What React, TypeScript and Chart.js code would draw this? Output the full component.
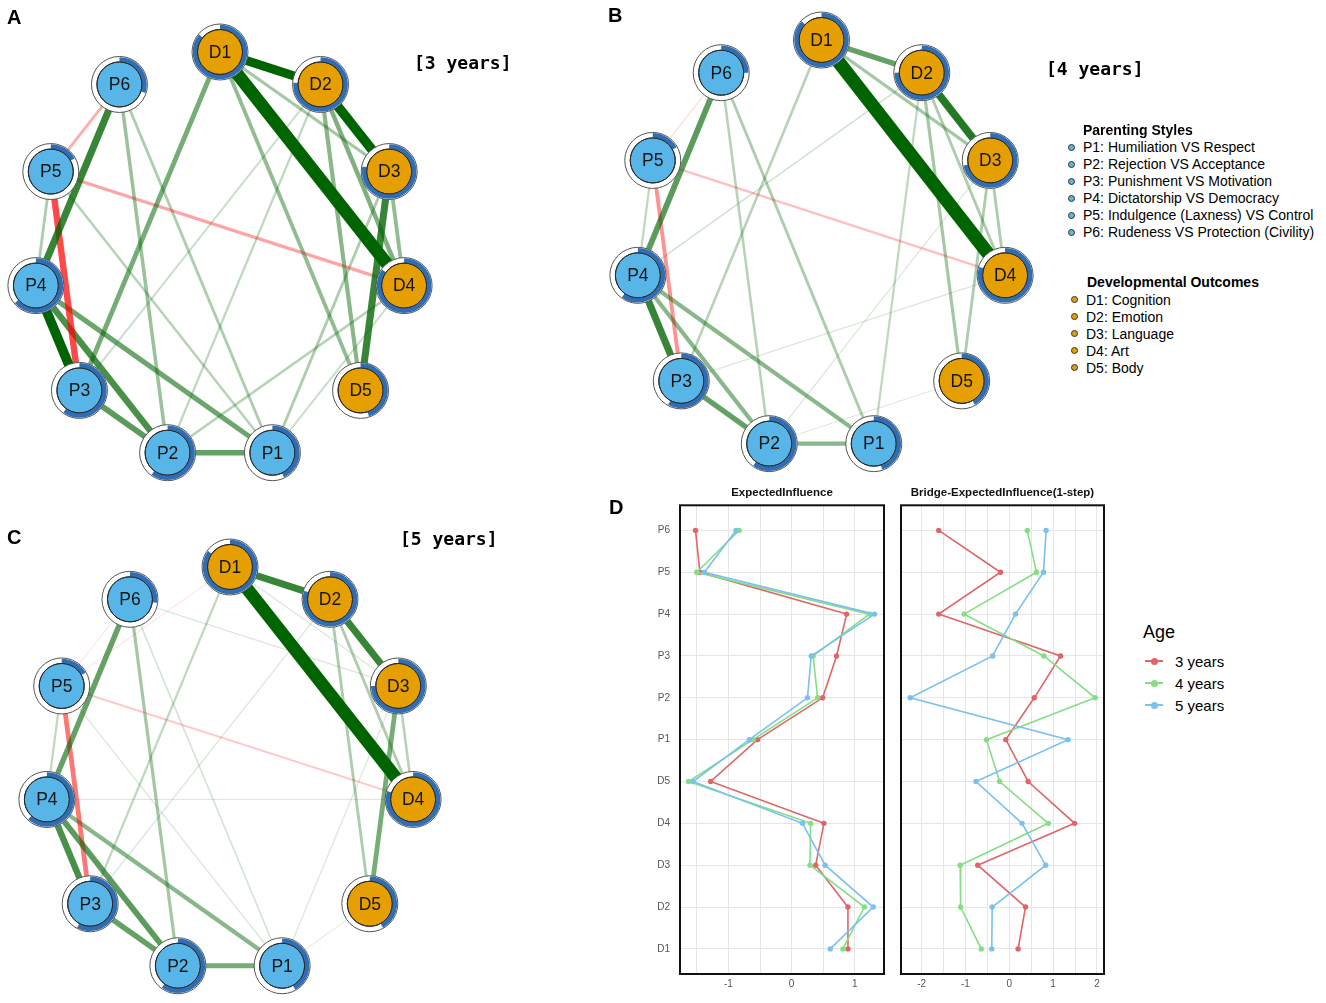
import React, { useEffect, useRef } from "react";
import { Chart, registerables } from "chart.js";
Chart.register(...registerables);

const FONT = '"Liberation Sans", Arial, Helvetica, sans-serif';
const MONO = '"DejaVu Sans Mono", "Liberation Mono", monospace';

// ---------- Network data ----------
const nodeNames = ["D1", "D2", "D3", "D4", "D5", "P1", "P2", "P3", "P4", "P5", "P6"];
// node predictability (pie fraction), same order as nodeNames
const pie3 = [0.86, 0.76, 0.78, 0.85, 0.45, 0.43, 0.6, 0.6, 0.64, 0.17, 0.3];
const pie4 = [0.87, 0.75, 0.72, 0.8, 0.42, 0.45, 0.6, 0.58, 0.6, 0.17, 0.25];
const pie5 = [0.85, 0.8, 0.75, 0.8, 0.42, 0.42, 0.6, 0.58, 0.62, 0.17, 0.27];

type Edge = [string, string, number];
const edges3: Edge[] = [
  ["D1", "D4", 0.4], ["D2", "D3", 0.3], ["D1", "D2", 0.28], ["D3", "D5", 0.22],
  ["P4", "P3", 0.3], ["P6", "P4", 0.22], ["P4", "P2", 0.2], ["P3", "P2", 0.18],
  ["P4", "P1", 0.16], ["P2", "P1", 0.17], ["D1", "P3", 0.15], ["D2", "D4", 0.14],
  ["D2", "D5", 0.13], ["D1", "D5", 0.12], ["D3", "D4", 0.12], ["D1", "D3", 0.1],
  ["P6", "P2", 0.11], ["P6", "P1", 0.09], ["P5", "P4", 0.09], ["P5", "P1", 0.08],
  ["D3", "P1", 0.09], ["D4", "P2", 0.08], ["D4", "P1", 0.06], ["D2", "P3", 0.06],
  ["D2", "P2", 0.07], ["P5", "P3", -0.2], ["P5", "D4", -0.1], ["P5", "P6", -0.09],
];
const edges4: Edge[] = [
  ["D1", "D4", 0.42], ["D2", "D3", 0.24], ["D1", "D2", 0.17], ["P4", "P3", 0.22],
  ["P6", "P4", 0.18], ["P3", "P2", 0.17], ["P4", "P2", 0.13], ["P4", "P1", 0.13],
  ["P2", "P1", 0.13], ["D1", "D3", 0.1], ["D2", "D4", 0.09], ["D2", "D5", 0.1],
  ["D3", "D4", 0.09], ["D3", "D5", 0.09], ["D1", "P3", 0.08], ["D2", "P1", 0.07],
  ["P6", "P2", 0.08], ["P6", "P1", 0.09], ["P5", "P4", 0.07], ["D2", "P4", 0.05],
  ["D3", "P2", 0.04], ["D4", "P3", 0.04], ["D5", "P2", 0.03], ["P5", "P3", -0.12],
  ["P5", "D4", -0.07], ["P5", "P6", -0.04],
];
const edges5: Edge[] = [
  ["D1", "D4", 0.4], ["D1", "D2", 0.22], ["D2", "D3", 0.22], ["P4", "P3", 0.2],
  ["P6", "P4", 0.17], ["P4", "P2", 0.18], ["P3", "P2", 0.17], ["P2", "P1", 0.15],
  ["P4", "P1", 0.13], ["D3", "D5", 0.15], ["D2", "D5", 0.09], ["D2", "D4", 0.09],
  ["D3", "D4", 0.08], ["D1", "P3", 0.07], ["P6", "P2", 0.1], ["P5", "P4", 0.07],
  ["P6", "P1", 0.05], ["P5", "P1", 0.04], ["D1", "D3", 0.04], ["D2", "P3", 0.04],
  ["D3", "P6", 0.04], ["P4", "D4", 0.03], ["D3", "P1", 0.04], ["D5", "P1", 0.03],
  ["P5", "P3", -0.15], ["P5", "D4", -0.06], ["P6", "P5", -0.03], ["D1", "P5", -0.03],
];

const parentingLabels = [
  "P1: Humiliation VS Respect",
  "P2: Rejection VS Acceptance",
  "P3: Punishment VS Motivation",
  "P4: Dictatorship VS Democracy",
  "P5: Indulgence (Laxness) VS Control",
  "P6: Rudeness VS Protection (Civility)",
];
const outcomeLabels = ["D1: Cognition", "D2: Emotion", "D3: Language", "D4: Art", "D5: Body"];

// ---------- Centrality data ----------
const nodeCategories = ["P6", "P5", "P4", "P3", "P2", "P1", "D5", "D4", "D3", "D2", "D1"];
const ei3 = [-1.52, -1.45, 0.87, 0.71, 0.49, -0.54, -1.28, 0.51, 0.38, 0.89, 0.89];
const ei4 = [-0.83, -1.5, 1.23, 0.34, 0.41, -0.61, -1.63, 0.3, 0.29, 1.15, 0.81];
const ei5 = [-0.88, -1.38, 1.31, 0.31, 0.25, -0.67, -1.56, 0.17, 0.53, 1.29, 0.61];
const bei3 = [-1.61, -0.2, -1.61, 1.17, 0.57, -0.08, 0.43, 1.49, -0.72, 0.37, 0.2];
const bei4 = [0.41, 0.62, -1.03, 0.79, 1.96, -0.52, -0.22, 0.89, -1.12, -1.11, -0.64];
const bei5 = [0.84, 0.78, 0.14, -0.38, -2.26, 1.34, -0.76, 0.29, 0.83, -0.39, -0.4];
const eiGridTicks = [-1.5, -1, -0.5, 0, 0.5, 1];
const beiGridTicks = [-2, -1.5, -1, -0.5, 0, 0.5, 1, 1.5, 2];
const ageLabels = ["3 years", "4 years", "5 years"];
const ageColors = ["rgb(224,100,104)", "rgb(132,222,132)", "rgb(122,192,240)"];

// ---------- Helpers ----------
function Txt(props: { x: number; y: number; size: number; bold?: boolean; family?: string; color?: string; children: any }) {
  const { x, y, size, bold, family, color, children } = props;
  return (
    <div
      style={{
        position: "absolute",
        left: x,
        top: y - 0.8465 * size,
        fontSize: size,
        lineHeight: `${size}px`,
        fontFamily: family || FONT,
        fontWeight: bold ? "bold" : "normal",
        color: color || "#000",
        whiteSpace: "nowrap",
      }}
    >
      {children}
    </div>
  );
}

function Dot(props: { x: number; y: number; color: string }) {
  return (
    <div
      style={{
        position: "absolute",
        left: props.x - 3.5,
        top: props.y - 3.5,
        width: 5,
        height: 5,
        borderRadius: "50%",
        background: props.color,
        border: "1px solid #333",
      }}
    />
  );
}

function NetworkPanel(props: {
  edges: Edge[];
  pie: number[];
  left: number;
  top: number;
  width: number;
  height: number;
  pad: { left: number; right: number; top: number; bottom: number };
}) {
  const ref = useRef<HTMLCanvasElement>(null);
  useEffect(() => {
    const canvas = ref.current!;
    const n = nodeNames.length;
    const pos = nodeNames.map((_, i) => ({
      x: Math.sin((2 * Math.PI * i) / n),
      y: Math.cos((2 * Math.PI * i) / n),
    }));
    const sorted = [...props.edges].sort((a, b) => Math.abs(a[2]) - Math.abs(b[2]));
    const edgeSets = sorted.map((e, k) => {
      const i = nodeNames.indexOf(e[0]);
      const j = nodeNames.indexOf(e[1]);
      const w = Math.abs(e[2]);
      const alpha = Math.min(1, Math.max(0.15, w / 0.28));
      const color = e[2] > 0 ? `rgba(0,100,0,${alpha})` : `rgba(255,0,0,${alpha})`;
      return {
        data: [pos[i], pos[j]],
        showLine: true,
        borderColor: color,
        borderWidth: Math.max(1, w * 32),
        pointRadius: 0,
        clip: false as any,
        order: 10 + (sorted.length - k),
      };
    });
    const nodeColors = nodeNames.map((nm) => (nm[0] === "P" ? "#58B5E8" : "#E69F00"));
    const pie = props.pie;
    const chart = new Chart(canvas, {
      type: "scatter",
      data: {
        datasets: [
          {
            data: pos,
            pointRadius: 22.5,
            pointBackgroundColor: nodeColors,
            pointBorderColor: "#2a2a2a",
            pointBorderWidth: 1,
            clip: false as any,
            order: 0,
          },
          {
            data: pos,
            pointRadius: 28,
            pointBackgroundColor: "#ffffff",
            pointBorderColor: "#555555",
            pointBorderWidth: 1,
            clip: false as any,
            order: 1,
          },
          ...edgeSets,
        ] as any,
      },
      options: {
        responsive: false,
        animation: false,
        events: [],
        layout: { padding: props.pad },
        scales: {
          x: { type: "linear", min: -1, max: 1, display: false },
          y: { type: "linear", min: -1, max: 1, display: false },
        },
        plugins: { legend: { display: false }, tooltip: { enabled: false } },
      },
      plugins: [
        {
          id: "nodeRings",
          afterDatasetsDraw(c: any) {
            const ctx = c.ctx as CanvasRenderingContext2D;
            const meta = c.getDatasetMeta(0);
            meta.data.forEach((el: any, i: number) => {
              const x = el.x;
              const y = el.y;
              ctx.save();
              ctx.beginPath();
              ctx.arc(x, y, 25, -Math.PI / 2, -Math.PI / 2 + 2 * Math.PI * pie[i]);
              ctx.strokeStyle = "#2F6DB5";
              ctx.lineWidth = 4.6;
              ctx.stroke();
              ctx.beginPath();
              ctx.arc(x, y, 22.5, 0, 2 * Math.PI);
              ctx.strokeStyle = "#2a2a2a";
              ctx.lineWidth = 1;
              ctx.stroke();
              ctx.fillStyle = "#151515";
              ctx.font = `17.5px ${FONT}`;
              ctx.textAlign = "center";
              ctx.textBaseline = "middle";
              ctx.fillText(nodeNames[i], x, y + 1);
              ctx.restore();
            });
          },
        },
      ],
    });
    return () => chart.destroy();
  }, []);
  return (
    <canvas
      ref={ref}
      width={props.width}
      height={props.height}
      style={{ position: "absolute", left: props.left, top: props.top }}
    />
  );
}

function InfluencePanel(props: {
  title: string;
  series: number[][];
  min: number;
  max: number;
  gridTicks: number[];
  showY: boolean;
  yWidth: number;
  left: number;
  top: number;
  width: number;
  height: number;
  padLeft: number;
  padRight: number;
}) {
  const ref = useRef<HTMLCanvasElement>(null);
  useEffect(() => {
    const canvas = ref.current!;
    const datasets = props.series.map((vals, s) => ({
      label: ageLabels[s],
      data: vals.map((v, i) => ({ x: v, y: i })),
      showLine: true,
      borderColor: ageColors[s],
      borderWidth: 1.6,
      pointRadius: 2.7,
      pointBackgroundColor: ageColors[s],
      pointBorderColor: ageColors[s],
      pointBorderWidth: 0,
      clip: false as any,
      order: 3 - s,
    }));
    const chart = new Chart(canvas, {
      type: "scatter",
      data: { datasets: datasets as any },
      options: {
        responsive: false,
        animation: false,
        events: [],
        layout: { padding: { left: props.padLeft, right: props.padRight, top: 0, bottom: 0 } },
        scales: {
          x: {
            type: "linear",
            min: props.min,
            max: props.max,
            afterBuildTicks: (s: any) => {
              s.ticks = props.gridTicks.map((v) => ({ value: v }));
            },
            afterFit: (s: any) => {
              s.height = 24;
            },
            ticks: {
              autoSkip: false,
              maxRotation: 0,
              padding: 4,
              color: "#555",
              font: { size: 10, family: FONT },
              callback: (v: any) => (Number.isInteger(v) ? String(v) : ""),
            },
            grid: { color: "#e6e6e6", lineWidth: 1, drawTicks: false },
            border: { display: false },
          },
          y: {
            type: "linear",
            reverse: true,
            min: -0.6,
            max: 10.6,
            afterBuildTicks: (s: any) => {
              s.ticks = nodeCategories.map((_, i) => ({ value: i }));
            },
            afterFit: (s: any) => {
              s.width = props.yWidth;
            },
            ticks: {
              display: props.showY,
              autoSkip: false,
              padding: 10,
              color: "#555",
              font: { size: 10, family: FONT },
              callback: (v: any) => nodeCategories[v],
            },
            grid: { color: "#e6e6e6", lineWidth: 1, drawTicks: false },
            border: { display: false },
          },
        },
        plugins: {
          legend: { display: false },
          tooltip: { enabled: false },
          title: {
            display: true,
            text: props.title,
            fullSize: false,
            color: "#111",
            font: { size: 11.5, weight: "bold", family: FONT },
            padding: { top: 4, bottom: 5.5 },
          },
        },
      },
      plugins: [
        {
          id: "panelBox",
          beforeDatasetsDraw(c: any) {
            const a = c.chartArea;
            const ctx = c.ctx as CanvasRenderingContext2D;
            ctx.save();
            ctx.strokeStyle = "#111";
            ctx.lineWidth = 2;
            ctx.strokeRect(a.left, a.top, a.right - a.left, a.bottom - a.top);
            ctx.restore();
          },
        },
      ],
    });
    return () => chart.destroy();
  }, []);
  return (
    <canvas
      ref={ref}
      width={props.width}
      height={props.height}
      style={{ position: "absolute", left: props.left, top: props.top }}
    />
  );
}

export default function App() {
  return (
    <div
      style={{
        position: "absolute",
        left: 0,
        top: 0,
        width: 1326,
        height: 1003,
        background: "#fff",
        overflow: "hidden",
      }}
    >
      <NetworkPanel
        edges={edges3}
        pie={pie3}
        left={0}
        top={0}
        width={540}
        height={490}
        pad={{ left: 34, right: 134, top: 52, bottom: 26 }}
      />
      <NetworkPanel
        edges={edges4}
        pie={pie4}
        left={600}
        top={0}
        width={450}
        height={490}
        pad={{ left: 36, right: 43, top: 40, bottom: 38 }}
      />
      <NetworkPanel
        edges={edges5}
        pie={pie5}
        left={0}
        top={500}
        width={540}
        height={503}
        pad={{ left: 45, right: 125, top: 67, bottom: 28 }}
      />

      <Txt x={7} y={24} size={20} bold>A</Txt>
      <Txt x={608} y={22} size={20} bold>B</Txt>
      <Txt x={7} y={544} size={20} bold>C</Txt>
      <Txt x={609} y={514} size={20} bold>D</Txt>

      <Txt x={414} y={69} size={18} bold family={MONO}>[3 years]</Txt>
      <Txt x={1046} y={75} size={18} bold family={MONO}>[4 years]</Txt>
      <Txt x={400} y={545} size={18} bold family={MONO}>[5 years]</Txt>

      <Txt x={1083} y={135} size={14} bold>Parenting Styles</Txt>
      {parentingLabels.map((t, i) => (
        <React.Fragment key={t}>
          <Dot x={1071.5} y={147 + i * 17} color="#58B5E8" />
          <Txt x={1083} y={151.5 + i * 17} size={14}>{t}</Txt>
        </React.Fragment>
      ))}
      <Txt x={1087} y={287} size={14} bold>Developmental Outcomes</Txt>
      {outcomeLabels.map((t, i) => (
        <React.Fragment key={t}>
          <Dot x={1074} y={299.5 + i * 17} color="#E69F00" />
          <Txt x={1086} y={304.5 + i * 17} size={14}>{t}</Txt>
        </React.Fragment>
      ))}

      <InfluencePanel
        title="ExpectedInfluence"
        series={[ei3, ei4, ei5]}
        min={-1.765}
        max={1.46}
        gridTicks={eiGridTicks}
        showY={true}
        yWidth={50}
        left={630}
        top={482}
        width={258}
        height={516}
        padLeft={0}
        padRight={4}
      />
      <InfluencePanel
        title="Bridge-ExpectedInfluence(1-step)"
        series={[bei3, bei4, bei5]}
        min={-2.47}
        max={2.16}
        gridTicks={beiGridTicks}
        showY={false}
        yWidth={0}
        left={896}
        top={482}
        width={212}
        height={516}
        padLeft={5}
        padRight={4}
      />

      <Txt x={1143} y={638.5} size={18}>Age</Txt>
      {ageLabels.map((t, i) => (
        <React.Fragment key={t}>
          <div
            style={{
              position: "absolute",
              left: 1145,
              top: 661 + i * 22 - 1,
              width: 18,
              height: 2,
              background: ageColors[i],
            }}
          />
          <div
            style={{
              position: "absolute",
              left: 1154 - 3.5,
              top: 661 + i * 22 - 3.5,
              width: 7,
              height: 7,
              borderRadius: "50%",
              background: ageColors[i],
            }}
          />
          <Txt x={1175} y={666.5 + i * 22} size={15}>{t}</Txt>
        </React.Fragment>
      ))}
    </div>
  );
}
